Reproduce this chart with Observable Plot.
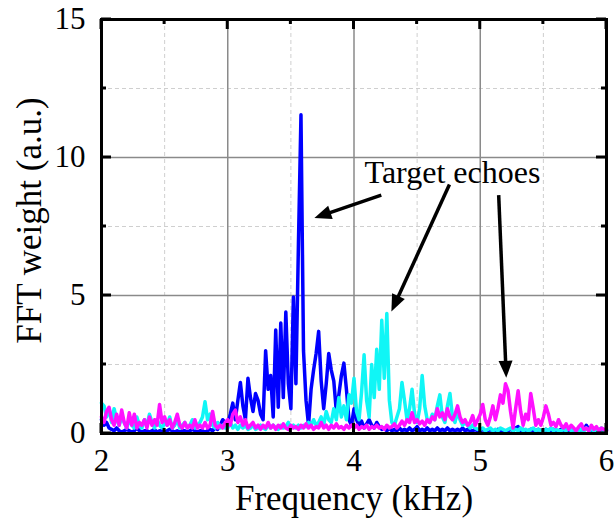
<!DOCTYPE html>
<html>
<head>
<meta charset="utf-8">
<script src="https://cdn.jsdelivr.net/npm/d3@7"></script>
<script src="https://cdn.jsdelivr.net/npm/@observablehq/plot@0.6"></script>
<style>
  html, body { margin: 0; padding: 0; background: #fff; }
  #chart { width: 614px; height: 523px; }
  #chart svg text { font-family: "Liberation Serif", "Times New Roman", Tinos, Times, serif !important; }
</style>
</head>
<body>
<div id="chart"></div>
<script>
// ---------- data ----------
const fStart = 2.0, fStep = 0.02;   // frequency grid (kHz), 201 samples 2.00 .. 6.00

const blueVals = [
  0.5,0.3,0.4,0.2,0.15,0.1,0.2,0.1,0.05,0.1,
  0.15,0.1,0.05,0.1,0.2,0.1,0.05,0.1,0.1,0.05,
  0.1,0.15,0.05,0.1,0.1,0.05,0.1,0.15,0.1,0.05,
  0.1,0.05,0.1,0.1,0.05,0.1,0.15,0.1,0.05,0.1,
  0.1,0.05,0.1,0.15,0.1,0.2,0.15,0.3,0.5,0.4,
  0.35,0.7,1.1,0.5,1.2,1.85,1.0,0.5,2.0,1.3,
  0.8,1.45,1.2,0.7,0.5,3.0,1.6,2.1,0.6,3.75,
  0.95,4.0,1.3,4.4,1.8,0.9,4.95,1.8,6.9,11.55,
  3.0,1.2,0.3,1.6,2.3,2.9,3.7,1.9,0.9,1.8,
  2.9,2.3,1.9,0.8,1.4,2.1,2.55,1.6,0.5,0.3,
  0.9,0.5,0.3,0.45,0.2,0.35,0.5,0.3,0.2,0.4,
  0.25,0.15,0.2,0.1,0.2,0.1,0.15,0.1,0.2,0.1,
  0.15,0.1,0.2,0.1,0.15,0.25,0.1,0.15,0.1,0.2,
  0.1,0.15,0.1,0.2,0.1,0.15,0.1,0.2,0.1,0.15,
  0.1,0.15,0.1,0.2,0.1,0.15,0.1,0.1,0.15,0.1,
  0.1,0.15,0.1,0.1,0.15,0.1,0.1,0.15,0.1,0.1,
  0.1,0.1,0.15,0.1,0.2,0.25,0.1,0.15,0.1,0.1,
  0.15,0.1,0.1,0.15,0.1,0.1,0.15,0.1,0.1,0.15,
  0.1,0.1,0.15,0.1,0.2,0.1,0.1,0.15,0.1,0.1,
  0.15,0.1,0.3,0.15,0.1,0.15,0.1,0.1,0.15,0.1,
  0.1
];

const cyanVals = [
  1.1,1.0,0.6,0.9,0.4,0.9,0.5,0.3,0.6,0.4,
  0.2,0.5,0.3,0.2,0.6,0.3,0.2,0.5,0.3,0.7,
  0.4,0.2,0.5,0.3,0.2,0.4,0.3,0.6,0.2,0.3,
  0.5,0.2,0.3,0.4,0.2,0.3,0.5,0.2,0.3,0.4,
  0.6,1.15,0.5,0.7,0.3,0.2,0.4,0.2,0.3,0.2,
  0.2,0.4,0.2,0.3,0.15,0.3,0.2,0.3,0.15,0.2,
  0.3,0.15,0.2,0.3,0.2,0.15,0.3,0.2,0.3,0.2,
  0.15,0.3,0.2,0.25,0.4,0.2,0.3,0.2,0.3,0.2,
  0.3,0.25,0.4,0.3,0.5,0.3,0.4,0.6,0.3,0.8,
  0.5,0.4,0.9,0.5,1.3,0.6,1.0,0.5,1.4,1.1,
  2.0,0.8,0.5,1.5,2.85,1.2,0.6,2.5,1.3,3.05,
  1.6,4.1,2.0,4.35,1.2,0.4,0.3,0.6,0.9,1.85,
  1.2,0.5,0.9,1.6,0.7,0.4,0.9,2.1,1.0,0.5,
  0.4,0.7,0.5,1.0,1.4,0.6,0.4,1.0,1.45,0.6,
  0.4,0.8,0.5,0.3,0.4,0.3,0.2,0.3,0.2,0.15,
  0.15,0.2,0.1,0.15,0.2,0.1,0.15,0.1,0.2,0.15,
  0.1,0.15,0.2,0.1,0.15,0.1,0.2,0.1,0.15,0.1,
  0.15,0.2,0.1,0.15,0.1,0.1,0.15,0.1,0.2,0.1,
  0.15,0.1,0.1,0.15,0.1,0.2,0.1,0.15,0.1,0.1,
  0.15,0.1,0.2,0.1,0.15,0.1,0.1,0.15,0.2,0.1,
  0.15
];

const magentaVals = [
  0.6,0.4,0.8,0.95,0.5,0.3,0.7,0.3,0.85,0.4,
  0.2,0.75,0.3,0.7,0.2,0.4,0.3,0.5,0.2,0.6,
  0.3,0.5,0.3,1.05,0.4,0.6,0.3,0.5,0.2,0.4,
  0.7,0.3,0.2,0.4,0.2,0.3,0.2,0.5,0.2,0.3,
  0.2,0.4,0.2,0.3,0.8,0.3,0.2,0.3,0.2,0.4,
  0.5,0.3,0.7,0.85,0.4,0.6,0.3,0.5,0.2,0.3,
  0.4,0.2,0.3,0.15,0.3,0.2,0.4,0.2,0.3,0.15,
  0.3,0.2,0.35,0.2,0.15,0.3,0.2,0.25,0.15,0.3,
  0.2,0.35,0.2,0.3,0.15,0.25,0.2,0.4,0.2,0.3,
  0.15,0.3,0.2,0.35,0.2,0.25,0.15,0.3,0.2,0.3,
  0.2,0.3,0.15,0.25,0.2,0.3,0.15,0.25,0.2,0.3,
  0.2,0.25,0.15,0.3,0.2,0.25,0.35,0.2,0.3,0.45,
  0.3,0.5,0.4,0.75,0.4,0.5,0.35,0.45,0.3,0.5,
  0.4,0.6,0.5,0.9,0.6,0.75,0.5,0.9,0.6,0.5,
  0.7,1.0,0.6,0.4,0.5,0.3,0.4,0.65,0.3,0.5,
  0.7,1.05,0.5,0.3,0.6,1.0,0.5,0.9,1.4,1.1,
  1.8,1.55,0.8,0.2,0.9,1.55,0.8,0.3,0.7,0.5,
  1.45,0.9,0.3,0.5,0.3,0.6,1.0,0.7,0.3,0.4,
  0.25,0.5,0.3,0.2,0.35,0.15,0.3,0.2,0.1,0.25,
  0.35,0.15,0.2,0.1,0.3,0.15,0.25,0.1,0.2,0.15,
  0.1
];

const seriesNames  = ["blue", "cyan", "magenta"];
const seriesColors = ["#0000ff", "#10f6f6", "#ff10ff"];

const xMajor = [2, 3, 4, 5, 6];
const xMinor = [2.5, 3.5, 4.5, 5.5];
const yMajor = [0, 5, 10, 15];
const yMinor = [2.5, 7.5, 12.5];

const annotText = "Target echoes";
const annotX = 4.78, annotY = 9.45;
// arrows: [x1, y1, x2, y2] in data units
const arrowX1 = [4.22, 4.76, 5.15];
const arrowY1 = [8.62, 9.0, 8.62];
const arrowX2 = [3.69, 4.30, 5.21];
const arrowY2 = [7.79, 4.40, 2.0];

const xLabel = "Frequency (kHz)";
const yLabel = "FFT weight (a.u.)";

// ---------- build tables ----------
function toRows(vals, name) {
  return vals.map((v, i) => ({ f: fStart + i * fStep, v, s: name }));
}
const blueData = toRows(blueVals, seriesNames[0]);
const cyanData = toRows(cyanVals, seriesNames[1]);
const magentaData = toRows(magentaVals, seriesNames[2]);
const arrows = arrowX1.map((x1, i) => ({ x1, y1: arrowY1[i], x2: arrowX2[i], y2: arrowY2[i] }));

const FONT = "Liberation Serif, Times New Roman, Tinos, Times, serif";

// inward ticks on all four sides (custom render using Plot scales)
function inwardTicks(index, scales, values, dims) {
  const g = d3.create("svg:g").attr("stroke", "black").attr("stroke-width", 3);
  const L = dims.marginLeft, R = dims.width - dims.marginRight;
  const T = dims.marginTop, B = dims.height - dims.marginBottom;
  const add = (x1, y1, x2, y2) => g.append("line").attr("x1", x1).attr("y1", y1).attr("x2", x2).attr("y2", y2);
  for (const [arr, len] of [[xMajor, 10], [xMinor, 5]]) {
    for (const d of arr) { const x = scales.x(d); add(x, B, x, B - len); add(x, T, x, T + len); }
  }
  for (const [arr, len] of [[yMajor, 10], [yMinor, 5]]) {
    for (const d of arr) { const y = scales.y(d); add(L, y, L + len, y); add(R, y, R - len, y); }
  }
  return g.node();
}

// arrows with filled heads
function arrowMark(index, scales, values, dims) {
  const g = d3.create("svg:g");
  const headL = 17, headW = 7;
  for (const a of arrows) {
    const sx = scales.x(a.x1), sy = scales.y(a.y1);
    const ex = scales.x(a.x2), ey = scales.y(a.y2);
    const ang = Math.atan2(ey - sy, ex - sx);
    const bx = ex - headL * Math.cos(ang), by = ey - headL * Math.sin(ang);
    g.append("line").attr("x1", sx).attr("y1", sy).attr("x2", bx + 2 * Math.cos(ang)).attr("y2", by + 2 * Math.sin(ang))
      .attr("stroke", "black").attr("stroke-width", 3.5);
    const px = -Math.sin(ang), py = Math.cos(ang);
    g.append("polygon")
      .attr("points", `${ex},${ey} ${bx + headW * px},${by + headW * py} ${bx - headW * px},${by - headW * py}`)
      .attr("fill", "black");
  }
  return g.node();
}

const chart = Plot.plot({
  width: 614,
  height: 523,
  marginLeft: 101,
  marginRight: 8,
  marginTop: 19,
  marginBottom: 90,
  style: { fontFamily: FONT, background: "#fff", color: "#000", overflow: "visible" },
  x: { domain: [2, 6] },
  y: { domain: [0, 15] },
  marks: [
    Plot.ruleX(xMinor, { stroke: "#cfcfcf", strokeWidth: 1, strokeDasharray: "4,3" }),
    Plot.ruleY(yMinor, { stroke: "#cfcfcf", strokeWidth: 1, strokeDasharray: "4,3" }),
    Plot.ruleX(xMajor.slice(1, -1), { stroke: "#8a8a8a", strokeWidth: 1.5 }),
    Plot.ruleY(yMajor.slice(1, -1), { stroke: "#8a8a8a", strokeWidth: 1.5 }),
    Plot.line(blueData, { x: "f", y: "v", stroke: seriesColors[0], strokeWidth: 3.5 }),
    Plot.line(cyanData, { x: "f", y: "v", stroke: seriesColors[1], strokeWidth: 3.5 }),
    Plot.line(magentaData, { x: "f", y: "v", stroke: seriesColors[2], strokeWidth: 3.5 }),
    Plot.frame({ stroke: "black", strokeWidth: 3 }),
    inwardTicks,
    arrowMark,
    Plot.text([annotText], { x: () => annotX, y: () => annotY, text: d => d, fontSize: 32, fill: "black" }),
    Plot.axisX({ ticks: xMajor, tickSize: 0, tickPadding: 15, fontSize: 31, label: null, tickFormat: d => String(d) }),
    Plot.axisY({ ticks: yMajor, tickSize: 0, tickPadding: 16, fontSize: 31, label: null, tickFormat: d => String(d) }),
    Plot.text([xLabel], { frameAnchor: "bottom", dy: 76, text: d => d, fontSize: 35, fill: "black" }),
    Plot.text([yLabel], { frameAnchor: "left", textAnchor: "middle", dx: -72, dy: -6, rotate: -90, text: d => d, fontSize: 35, fill: "black" })
  ]
});
document.getElementById("chart").appendChild(chart);
</script>
</body>
</html>
